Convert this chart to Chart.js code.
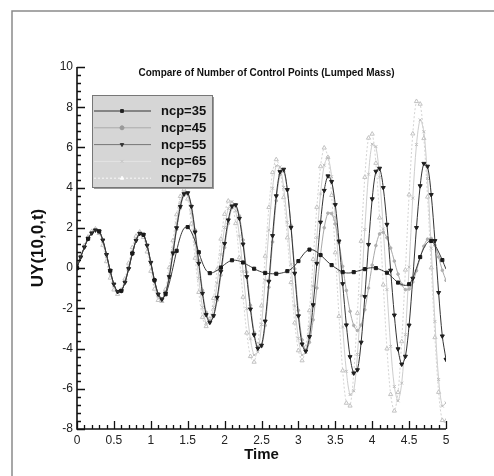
<!DOCTYPE html>
<html>
<head>
<meta charset="utf-8">
<script src="https://cdn.jsdelivr.net/npm/chart.js@4.4.1/dist/chart.umd.min.js"></script>
<style>
  html, body { margin: 0; padding: 0; background: #fff; }
  #wrap { width: 494px; height: 476px; }
</style>
</head>
<body>
<div id="wrap"><canvas id="uyChart" width="494" height="476"></canvas></div>
<script>
// sample times (s)
const time = [
  0.00, 0.05, 0.10, 0.15, 0.20, 0.25, 0.30, 0.35, 0.40, 0.45,
  0.50, 0.55, 0.60, 0.65, 0.70, 0.75, 0.80, 0.85, 0.90, 0.95,
  1.00, 1.05, 1.10, 1.15, 1.20, 1.25, 1.30, 1.35, 1.40, 1.45,
  1.50, 1.55, 1.60, 1.65, 1.70, 1.75, 1.80, 1.85, 1.90, 1.95,
  2.00, 2.05, 2.10, 2.15, 2.20, 2.25, 2.30, 2.35, 2.40, 2.45,
  2.50, 2.55, 2.60, 2.65, 2.70, 2.75, 2.80, 2.85, 2.90, 2.95,
  3.00, 3.05, 3.10, 3.15, 3.20, 3.25, 3.30, 3.35, 3.40, 3.45,
  3.50, 3.55, 3.60, 3.65, 3.70, 3.75, 3.80, 3.85, 3.90, 3.95,
  4.00, 4.05, 4.10, 4.15, 4.20, 4.25, 4.30, 4.35, 4.40, 4.45,
  4.50, 4.55, 4.60, 4.65, 4.70, 4.75, 4.80, 4.85, 4.90, 4.95,
  5.00
];

const ncp35 = [
  0, 0.55, 1.04, 1.46, 1.74, 1.89, 1.83, 1.39, 0.67, -0.13,
  -0.80, -1.17, -1.13, -0.71, -0.03, 0.73, 1.37, 1.72, 1.66, 1.13,
  0.28, -0.60, -1.26, -1.50, -1.30, -0.75, 0.02, 0.86, 1.56, 1.98,
  2.04, 1.79, 1.34, 0.79, 0.26, -0.11, -0.25, -0.21, -0.11, 0.03,
  0.18, 0.31, 0.39, 0.39, 0.35, 0.28, 0.18, 0.08, -0.03, -0.12,
  -0.19, -0.24, -0.27, -0.28, -0.28, -0.26, -0.22, -0.15, -0.05, 0.12,
  0.35, 0.60, 0.82, 0.92, 0.90, 0.80, 0.65, 0.48, 0.30, 0.15,
  0.02, -0.10, -0.20, -0.24, -0.24, -0.20, -0.15, -0.10, -0.05, 0.00,
  0.02, 0.00, -0.06, -0.14, -0.23, -0.38, -0.56, -0.72, -0.82, -0.86,
  -0.80, -0.50, 0.00, 0.55, 1.00, 1.28, 1.35, 1.15, 0.80, 0.40,
  -0.05
];

const ncp45 = [
  0, 0.55, 1.04, 1.46, 1.74, 1.89, 1.83, 1.39, 0.67, -0.13,
  -0.80, -1.17, -1.13, -0.71, -0.03, 0.73, 1.37, 1.72, 1.66, 1.13,
  0.28, -0.62, -1.30, -1.55, -1.27, -0.48, 0.68, 1.92, 2.98, 3.62,
  3.70, 3.10, 1.90, 0.38, -1.10, -2.20, -2.62, -2.40, -1.60, -0.35,
  1.02, 2.22, 3.00, 3.15, 2.60, 1.40, -0.20, -1.85, -3.20, -3.95,
  -3.90, -2.85, -0.95, 1.30, 3.35, 4.65, 4.81, 3.87, 2.12, -0.04,
  -2.10, -3.57, -4.10, -3.69, -2.57, -0.99, 0.67, 2.01, 2.73, 2.71,
  2.19, 1.25, 0.09, -1.11, -2.15, -2.85, -3.10, -2.83, -2.07, -0.99,
  0.15, 1.12, 1.70, 1.78, 1.51, 1.00, 0.35, -0.30, -0.81, -1.07,
  -1.04, -0.69, -0.13, 0.53, 1.09, 1.44, 1.47, 1.14, 0.55, -0.11,
  -0.61
];

const ncp55 = [
  0, 0.55, 1.04, 1.46, 1.74, 1.89, 1.83, 1.39, 0.67, -0.13,
  -0.80, -1.17, -1.13, -0.71, -0.03, 0.73, 1.37, 1.72, 1.66, 1.13,
  0.28, -0.62, -1.30, -1.55, -1.25, -0.43, 0.75, 2.00, 3.06, 3.69,
  3.74, 3.06, 1.79, 0.23, -1.26, -2.32, -2.70, -2.37, -1.46, -0.16,
  1.22, 2.39, 3.08, 3.14, 2.47, 1.19, -0.43, -2.04, -3.32, -3.99,
  -3.84, -2.64, -0.66, 1.61, 3.59, 4.79, 4.91, 3.90, 2.02, -0.26,
  -2.38, -3.78, -4.13, -3.41, -1.83, 0.23, 2.28, 3.86, 4.58, 4.30,
  3.15, 1.34, -0.78, -2.83, -4.41, -5.22, -5.06, -3.69, -1.42, 1.17,
  3.44, 4.81, 4.96, 4.00, 2.17, -0.11, -2.34, -4.02, -4.78, -4.39,
  -2.84, -0.51, 2.01, 4.09, 5.20, 5.06, 3.65, 1.36, -1.22, -3.38,
  -4.54
];

const ncp65 = [
  0, 0.58, 1.08, 1.50, 1.77, 1.91, 1.80, 1.33, 0.58, -0.23,
  -0.88, -1.22, -1.11, -0.65, 0.05, 0.81, 1.43, 1.76, 1.62, 1.05,
  0.17, -0.76, -1.42, -1.65, -1.21, -0.28, 0.97, 2.24, 3.26, 3.80,
  3.69, 2.75, 1.22, -0.51, -1.95, -2.73, -2.68, -1.96, -0.74, 0.68,
  2.02, 2.96, 3.30, 2.85, 1.59, -0.17, -2.02, -3.52, -4.32, -4.17,
  -2.81, -0.60, 1.89, 3.97, 5.09, 5.03, 4.01, 2.28, 0.19, -1.88,
  -3.49, -4.32, -4.19, -2.95, -0.89, 1.52, 3.69, 5.12, 5.48, 4.55,
  2.53, -0.16, -2.93, -5.13, -6.29, -6.10, -4.29, -1.37, 1.92, 4.67,
  6.16, 6.04, 4.52, 1.95, -1.07, -3.89, -5.89, -6.60, -5.72, -3.31,
  0.05, 3.48, 6.14, 7.37, 6.78, 4.45, 0.99, -2.65, -5.54, -6.86,
  -6.70
];

const ncp75 = [
  0, 0.60, 1.12, 1.55, 1.83, 1.95, 1.73, 1.14, 0.33, -0.49,
  -1.08, -1.30, -1.09, -0.53, 0.25, 1.03, 1.59, 1.80, 1.53, 0.81,
  -0.15, -1.04, -1.60, -1.65, -1.06, 0.03, 1.37, 2.66, 3.57, 3.90,
  3.44, 2.20, 0.50, -1.20, -2.44, -2.90, -2.53, -1.50, -0.06, 1.45,
  2.68, 3.34, 3.23, 2.22, 0.52, -1.44, -3.22, -4.39, -4.67, -3.79,
  -1.87, 0.60, 3.02, 4.76, 5.40, 4.90, 3.51, 1.51, -0.71, -2.72,
  -4.10, -4.60, -3.93, -2.11, 0.44, 3.03, 5.05, 5.98, 5.51, 3.62,
  0.77, -2.39, -5.10, -6.71, -6.85, -5.22, -2.24, 1.34, 4.52, 6.47,
  6.67, 5.22, 2.50, -0.83, -4.01, -6.28, -7.10, -6.18, -3.65, -0.09,
  3.65, 6.68, 8.29, 8.16, 6.45, 3.54, 0.02, -3.45, -6.17, -7.57,
  -7.60
];

const seriesNames = ['ncp=35', 'ncp=45', 'ncp=55', 'ncp=65', 'ncp=75'];

const chartTitle = 'Compare of Number of Control Points (Lumped Mass)';
const xTitle = 'Time';
const yTitle = 'UY(10,0,t)';

function pts(values) {
  return values.map((v, i) => ({ x: time[i], y: v }));
}

const FONT = '"Liberation Sans", Arial, sans-serif';

// frame, axis lines, inward ticks, title and legend box
const decorPlugin = {
  id: 'decor',
  beforeDraw(chart) {
    const ctx = chart.ctx;
    ctx.save();
    ctx.fillStyle = '#fff';
    ctx.fillRect(0, 0, chart.width, chart.height);
    ctx.strokeStyle = '#8a8a8a';
    ctx.lineWidth = 1.5;
    ctx.beginPath();
    ctx.moveTo(12, chart.height);
    ctx.lineTo(12, 11);
    ctx.lineTo(chart.width, 11);
    ctx.stroke();
    ctx.restore();
  },
  afterDraw(chart) {
    const ctx = chart.ctx;
    const xs = chart.scales.x, ys = chart.scales.y;
    const area = chart.chartArea;
    ctx.save();
    ctx.strokeStyle = '#111';
    ctx.lineWidth = 1.6;
    ctx.beginPath();
    ctx.moveTo(area.left, area.top);
    ctx.lineTo(area.left, area.bottom);
    ctx.lineTo(area.right, area.bottom);
    ctx.stroke();

    ctx.lineWidth = 1.3;
    ctx.beginPath();
    // x ticks: major every 0.5, minor every 0.1
    for (let k = 0; k <= 50; k++) {
      const px = Math.round(xs.getPixelForValue(k * 0.1)) + 0.5;
      const len = k % 5 === 0 ? 8 : 4;
      ctx.moveTo(px, area.bottom);
      ctx.lineTo(px, area.bottom - len);
    }
    // y ticks: major every 2, minor every 0.4
    for (let k = 0; k <= 45; k++) {
      const py = Math.round(ys.getPixelForValue(-8 + k * 0.4)) + 0.5;
      const len = k % 5 === 0 ? 8 : 4;
      ctx.moveTo(area.left, py);
      ctx.lineTo(area.left + len, py);
    }
    ctx.stroke();

    // title inside the frame
    ctx.fillStyle = '#111';
    ctx.font = 'bold 10px ' + FONT;
    ctx.textAlign = 'center';
    ctx.textBaseline = 'middle';
    ctx.fillText(chartTitle, (area.left + area.right) / 2 + 5, area.top + 6);

    // legend box
    const bx = area.left + 15, by = area.top + 28, bw = 120, bh = 92;
    ctx.fillStyle = '#9a9a9a';
    ctx.fillRect(bx + 2, by + 2, bw, bh);
    ctx.fillStyle = '#d6d6d6';
    ctx.fillRect(bx, by, bw, bh);
    ctx.strokeStyle = '#777';
    ctx.lineWidth = 1;
    ctx.strokeRect(bx + 0.5, by + 0.5, bw, bh);

    chart.data.datasets.forEach((ds, i) => {
      const y = by + 16 + i * 16.8;
      ctx.save();
      ctx.strokeStyle = ds.legendColor;
      ctx.lineWidth = 1;
      ctx.setLineDash(ds.borderDash || []);
      ctx.beginPath();
      ctx.moveTo(bx + 2, y);
      ctx.lineTo(bx + 59, y);
      ctx.stroke();
      ctx.restore();
      ctx.save();
      ctx.fillStyle = ds.legendMarker;
      ctx.strokeStyle = ds.legendMarker;
      Chart.helpers.drawPoint(ctx, {
        pointStyle: ds.pointStyle, rotation: ds.pointRotation || 0,
        radius: 2, borderWidth: 1
      }, bx + 30, y);
      ctx.restore();
      ctx.fillStyle = '#111';
      ctx.font = 'bold 13px ' + FONT;
      ctx.textAlign = 'left';
      ctx.textBaseline = 'middle';
      ctx.fillText(ds.label, bx + 69, y + 0.5);
    });
    ctx.restore();
  }
};

const ctx = document.getElementById('uyChart').getContext('2d');
new Chart(ctx, {
  type: 'line',
  data: {
    datasets: [
      {
        label: seriesNames[0], data: pts(ncp35), order: 0,
        borderColor: '#3a3a3a', borderWidth: 1, backgroundColor: '#1a1a1a',
        pointStyle: 'rect', pointBorderColor: '#1a1a1a',
        pointRadius: c => (c.dataIndex % 3 === 0 ? 2.2 : 0),
        legendColor: '#333', legendMarker: '#222'
      },
      {
        label: seriesNames[1], data: pts(ncp45), order: 2,
        borderColor: '#a8a8a8', borderWidth: 1, backgroundColor: '#b0b0b0',
        pointStyle: 'circle', pointBorderColor: '#b0b0b0', pointRadius: 1.3,
        legendColor: '#aaa', legendMarker: '#999'
      },
      {
        label: seriesNames[2], data: pts(ncp55), order: 1,
        borderColor: '#333', borderWidth: 1, backgroundColor: '#1e1e1e',
        pointStyle: 'triangle', pointRotation: 180, pointBorderColor: '#1e1e1e', pointRadius: 2.3,
        legendColor: '#777', legendMarker: '#333'
      },
      {
        label: seriesNames[3], data: pts(ncp65), order: 3,
        borderColor: '#cdcdcd', borderWidth: 1, backgroundColor: 'rgba(0,0,0,0)',
        pointStyle: 'crossRot', pointBorderColor: '#bdbdbd', pointRadius: 2,
        legendColor: '#e4e4e4', legendMarker: '#c4c4c4'
      },
      {
        label: seriesNames[4], data: pts(ncp75), order: 4,
        borderColor: '#d4d4d4', borderWidth: 1, borderDash: [2, 2], backgroundColor: '#fff',
        pointStyle: 'triangle', pointBorderColor: '#c2c2c2', pointRadius: 2.4,
        legendColor: '#fafafa', legendMarker: '#fff'
      }
    ]
  },
  options: {
    responsive: false,
    animation: false,
    devicePixelRatio: 1,
    layout: { padding: { top: 67, right: 48, left: 0, bottom: 0 } },
    elements: {
      line: { tension: 0.3 },
      point: { borderWidth: 1 }
    },
    plugins: {
      legend: { display: false },
      tooltip: { enabled: false },
      title: { display: false }
    },
    scales: {
      x: {
        type: 'linear', min: 0, max: 5,
        grid: { display: false, drawTicks: false },
        border: { display: false },
        ticks: {
          stepSize: 0.5, padding: 4, color: '#222', maxRotation: 0,
          font: { family: FONT, size: 12 },
          callback: value => String(Number(value.toFixed(1)))
        },
        title: {
          display: true, text: xTitle, color: '#111',
          font: { family: FONT, size: 15, weight: 'bold' },
          padding: { top: 0, bottom: 12 }
        },
        afterFit(scale) { scale.height = 47; }
      },
      y: {
        type: 'linear', min: -8, max: 10,
        grid: { display: false, drawTicks: false },
        border: { display: false },
        ticks: {
          stepSize: 2, padding: 4, color: '#222',
          font: { family: FONT, size: 12 },
          callback: value => String(value)
        },
        title: {
          display: true, text: yTitle, color: '#111',
          font: { family: FONT, size: 17, weight: 'bold' },
          padding: { top: 28, bottom: 0 }
        },
        afterFit(scale) { scale.width = 77; }
      }
    }
  },
  plugins: [decorPlugin]
});
</script>
</body>
</html>
